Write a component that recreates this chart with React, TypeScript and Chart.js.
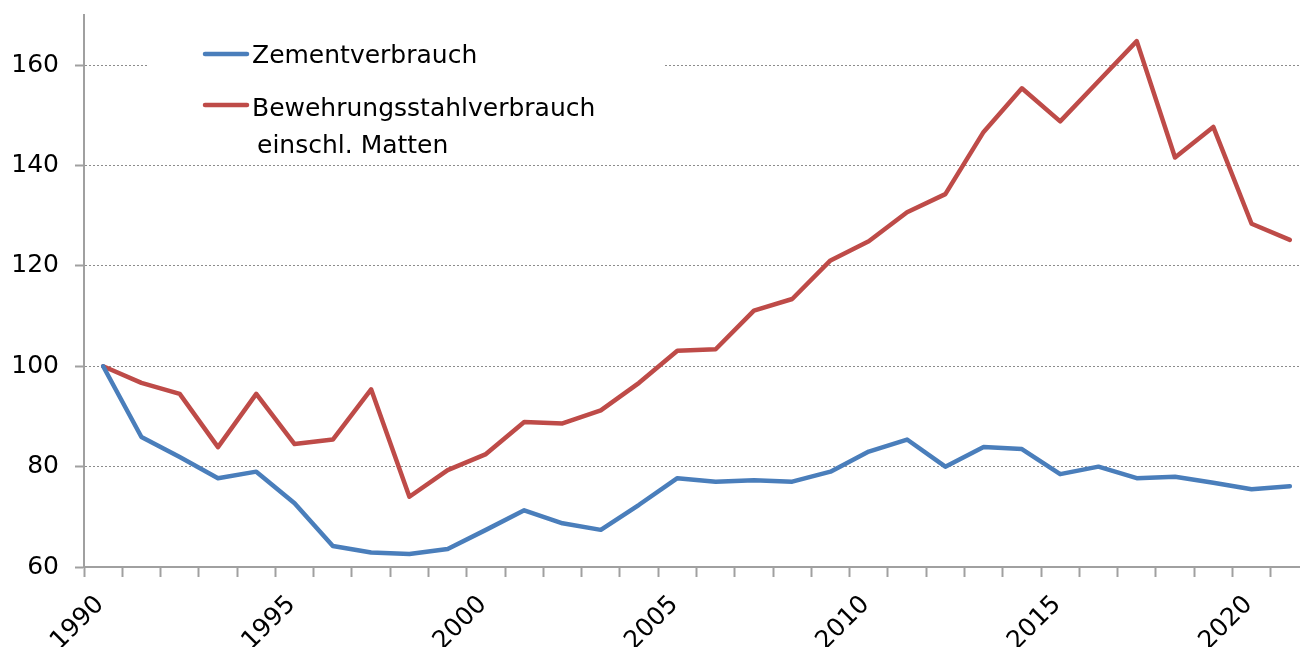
import React, { useEffect, useRef } from 'react';
import { Chart, registerables } from 'chart.js';

Chart.register(...registerables);

const years = [
  '1990', '1991', '1992', '1993', '1994', '1995', '1996', '1997', '1998', '1999',
  '2000', '2001', '2002', '2003', '2004', '2005', '2006', '2007', '2008', '2009',
  '2010', '2011', '2012', '2013', '2014', '2015', '2016', '2017', '2018', '2019',
  '2020', '2021',
];

const labeledYears = ['1990', '1995', '2000', '2005', '2010', '2015', '2020'];

const zement = [
  100, 85.9, 81.9, 77.7, 79.0, 72.7, 64.2, 62.9, 62.6, 63.6,
  67.4, 71.3, 68.7, 67.4, 72.4, 77.7, 77.0, 77.3, 77.0, 79.0,
  83.0, 85.4, 80.0, 83.9, 83.5, 78.5, 80.0, 77.7, 78.0, 76.8,
  75.5, 76.1,
];

const stahl = [
  100, 96.7, 94.5, 83.9, 94.5, 84.5, 85.4, 95.4, 74.0, 79.3,
  82.5, 88.9, 88.6, 91.2, 96.7, 103.1, 103.4, 111.1, 113.4, 121.1,
  124.9, 130.7, 134.3, 146.7, 155.4, 148.8, 156.8, 164.8, 141.6, 147.7,
  128.4, 125.2,
];

const yTicks = [60, 80, 100, 120, 140, 160];

const seriesNames = ['Zementverbrauch', 'Bewehrungsstahlverbrauch'];
const seriesNameLine2 = 'einschl. Matten';

const BLUE = '#4A7EBB';
const RED = '#BE4B48';
const AXIS = '#a0a0a0';
const FONT = '"DejaVu Sans", Verdana, sans-serif';

const legendPlugin = {
  id: 'boxLegend',
  beforeDatasetsDraw(chart: any) {
    const ctx = chart.ctx;
    ctx.save();
    ctx.fillStyle = '#ffffff';
    ctx.fillRect(148, 28, 517, 132);
    ctx.lineCap = 'round';
    ctx.lineWidth = 4.5;
    ctx.strokeStyle = BLUE;
    ctx.beginPath();
    ctx.moveTo(205, 54);
    ctx.lineTo(247, 54);
    ctx.stroke();
    ctx.strokeStyle = RED;
    ctx.beginPath();
    ctx.moveTo(205, 105);
    ctx.lineTo(247, 105);
    ctx.stroke();
    ctx.fillStyle = '#000';
    ctx.font = `25px ${FONT}`;
    ctx.textBaseline = 'alphabetic';
    ctx.textAlign = 'left';
    ctx.fillText(seriesNames[0], 252, 63);
    ctx.fillText(seriesNames[1], 252, 116);
    ctx.fillText(seriesNameLine2, 257, 153);
    ctx.restore();
  },
};

export default function App() {
  const ref = useRef<HTMLCanvasElement | null>(null);

  useEffect(() => {
    if (!ref.current) return;
    const chart = new Chart(ref.current, {
      type: 'line',
      data: {
        labels: years,
        datasets: [
          {
            label: seriesNames[0],
            data: zement,
            borderColor: BLUE,
            backgroundColor: BLUE,
          },
          {
            label: seriesNames[1] + ' ' + seriesNameLine2,
            data: stahl,
            borderColor: RED,
            backgroundColor: RED,
          },
        ],
      },
      options: {
        responsive: false,
        animation: false,
        layout: { padding: { top: 15, right: 11, left: 0, bottom: 0 } },
        plugins: {
          legend: { display: false },
          tooltip: { enabled: false },
        },
        elements: {
          point: { radius: 0 },
          line: {
            tension: 0,
            borderWidth: 4.5,
            borderJoinStyle: 'round',
            borderCapStyle: 'round',
          },
        },
        scales: {
          x: {
            type: 'category',
            offset: true,
            grid: {
              offset: true,
              drawOnChartArea: false,
              drawTicks: true,
              tickLength: 10,
              tickColor: AXIS,
              tickWidth: 2,
            },
            border: { color: AXIS, width: 2 },
            ticks: {
              autoSkip: false,
              maxRotation: 45,
              minRotation: 45,
              padding: 13,
              labelOffset: -3,
              color: '#000',
              font: { family: FONT, size: 25 },
              callback: (_v: any, i: number) =>
                labeledYears.includes(years[i]) ? years[i] : '',
            },
            afterFit: (s: any) => {
              s.height = 80;
              s.paddingLeft = 0;
              s.paddingRight = 0;
            },
          },
          y: {
            min: 60,
            max: 170,
            afterBuildTicks: (s: any) => {
              s.ticks = yTicks.map((v) => ({ value: v }));
            },
            grid: {
              color: '#8c8c8c',
              lineWidth: 1,
              tickLength: 9,
              tickColor: AXIS,
              tickWidth: 2,
              tickBorderDash: [],
            },
            border: { color: AXIS, width: 2, dash: [2, 2] },
            ticks: {
              padding: 16,
              color: '#000',
              font: { family: FONT, size: 25 },
            },
            afterFit: (s: any) => {
              s.width = 84;
              s.paddingTop = 0;
              s.paddingBottom = 0;
            },
          },
        },
      },
      plugins: [legendPlugin],
    });
    return () => chart.destroy();
  }, []);

  return (
    <div
      style={{
        position: 'fixed',
        left: 0,
        top: 0,
        width: 1300,
        height: 647,
        overflow: 'hidden',
        background: '#fff',
      }}
    >
      <canvas
        ref={ref}
        width={1320}
        height={647}
        style={{ position: 'absolute', left: 0, top: 0, width: 1320, height: 647 }}
      />
    </div>
  );
}
